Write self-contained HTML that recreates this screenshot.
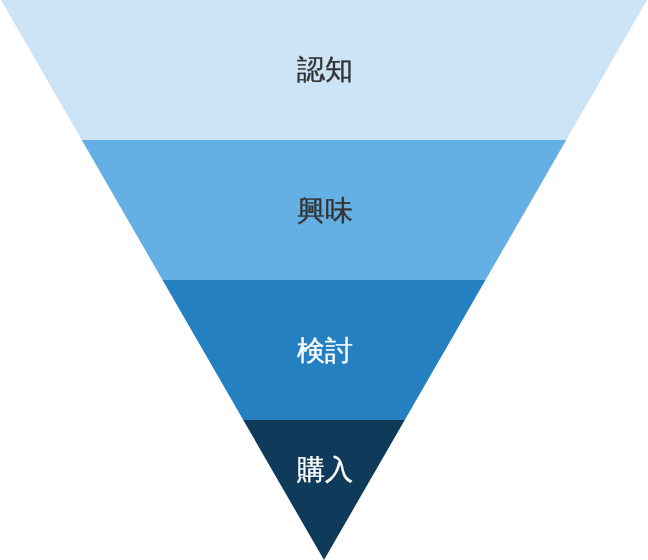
<!DOCTYPE html>
<html><head><meta charset="utf-8">
<style>
html,body{margin:0;padding:0;background:#fff;width:648px;height:560px;overflow:hidden}
svg{display:block;will-change:transform}
text{font-family:"Liberation Sans",sans-serif;font-size:28px}
.d{fill:#333;stroke:#333;stroke-width:0.35px}
.w{fill:#fff;stroke:#fff;stroke-width:0.35px}
</style></head><body>
<svg width="648" height="560" viewBox="0 0 648 560" xmlns="http://www.w3.org/2000/svg">
<polygon points="1,0 647,0 566.25,140 81.75,140" fill="#cde3f6"/>
<polygon points="81.75,140 566.25,140 485.5,280 162.5,280" fill="#64afe3"/>
<polygon points="162.5,280 485.5,280 404.75,420 243.25,420" fill="#2480c0"/>
<polygon points="243.25,420 404.75,420 324,560" fill="#0f3a5a"/>
<text x="324.7" y="79.3" text-anchor="middle" class="d">認知</text>
<text x="324.6" y="219.5" text-anchor="middle" class="d">興味</text>
<text x="324.6" y="359.6" text-anchor="middle" class="w">検討</text>
<text x="324.8" y="479.3" text-anchor="middle" class="w">購入</text>
</svg>
</body></html>
